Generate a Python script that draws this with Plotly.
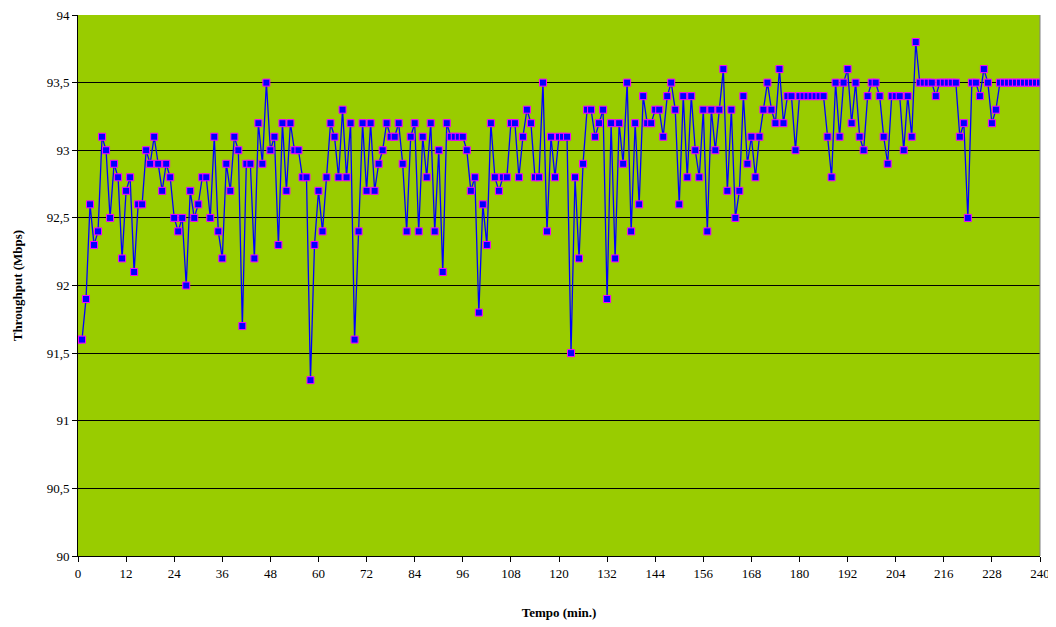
import plotly.graph_objects as go

# Tempo (min.) e throughput (Mbps)
minuti = list(range(0, 241))

throughput = [
    91.6, 91.6, 91.9, 92.6, 92.3, 92.4, 93.1, 93.0, 92.5, 92.9,
    92.8, 92.2, 92.7, 92.8, 92.1, 92.6, 92.6, 93.0, 92.9, 93.1,
    92.9, 92.7, 92.9, 92.8, 92.5, 92.4, 92.5, 92.0, 92.7, 92.5,
    92.6, 92.8, 92.8, 92.5, 93.1, 92.4, 92.2, 92.9, 92.7, 93.1,
    93.0, 91.7, 92.9, 92.9, 92.2, 93.2, 92.9, 93.5, 93.0, 93.1,
    92.3, 93.2, 92.7, 93.2, 93.0, 93.0, 92.8, 92.8, 91.3, 92.3,
    92.7, 92.4, 92.8, 93.2, 93.1, 92.8, 93.3, 92.8, 93.2, 91.6,
    92.4, 93.2, 92.7, 93.2, 92.7, 92.9, 93.0, 93.2, 93.1, 93.1,
    93.2, 92.9, 92.4, 93.1, 93.2, 92.4, 93.1, 92.8, 93.2, 92.4,
    93.0, 92.1, 93.2, 93.1, 93.1, 93.1, 93.1, 93.0, 92.7, 92.8,
    91.8, 92.6, 92.3, 93.2, 92.8, 92.7, 92.8, 92.8, 93.2, 93.2,
    92.8, 93.1, 93.3, 93.2, 92.8, 92.8, 93.5, 92.4, 93.1, 92.8,
    93.1, 93.1, 93.1, 91.5, 92.8, 92.2, 92.9, 93.3, 93.3, 93.1,
    93.2, 93.3, 91.9, 93.2, 92.2, 93.2, 92.9, 93.5, 92.4, 93.2,
    92.6, 93.4, 93.2, 93.2, 93.3, 93.3, 93.1, 93.4, 93.5, 93.3,
    92.6, 93.4, 92.8, 93.4, 93.0, 92.8, 93.3, 92.4, 93.3, 93.0,
    93.3, 93.6, 92.7, 93.3, 92.5, 92.7, 93.4, 92.9, 93.1, 92.8,
    93.1, 93.3, 93.5, 93.3, 93.2, 93.6, 93.2, 93.4, 93.4, 93.0,
    93.4, 93.4, 93.4, 93.4, 93.4, 93.4, 93.4, 93.1, 92.8, 93.5,
    93.1, 93.5, 93.6, 93.2, 93.5, 93.1, 93.0, 93.4, 93.5, 93.5,
    93.4, 93.1, 92.9, 93.4, 93.4, 93.4, 93.0, 93.4, 93.1, 93.8,
    93.5, 93.5, 93.5, 93.5, 93.4, 93.5, 93.5, 93.5, 93.5, 93.5,
    93.1, 93.2, 92.5, 93.5, 93.5, 93.4, 93.6, 93.5, 93.2, 93.3,
    93.5, 93.5, 93.5, 93.5, 93.5, 93.5, 93.5, 93.5, 93.5, 93.5,
    93.5,
]

x_ticks = list(range(0, 241, 12))
y_ticks = [90, 90.5, 91, 91.5, 92, 92.5, 93, 93.5, 94]

serif = "Liberation Serif, Times New Roman, serif"

fig = go.Figure()
fig.add_trace(go.Scatter(
    x=minuti, y=throughput, mode="lines+markers",
    line=dict(color="#0000FF", width=1.3),
    marker=dict(symbol="square", size=7, color="#0000FF",
                line=dict(color="#FF00FF", width=1)),
    showlegend=False,
))

# la pagina ha 8px di margine: la figura e' un po' piu' piccola della finestra
fig.update_layout(
    width=1048, height=619,
    margin=dict(l=70, r=16, t=7, b=71, pad=0),
    paper_bgcolor="white",
    plot_bgcolor="#99CC00",
    separators=",.",
    font=dict(family=serif, size=13, color="black"),
)

fig.update_xaxes(
    range=[0, 240], tickvals=x_ticks, showgrid=False, zeroline=False,
    showline=True, linecolor="black", linewidth=1, automargin=False,
    ticks="outside", ticklen=5, tickcolor="black", ticklabeloverflow="allow",
    title=dict(text="<b>Tempo (min.)</b>", font=dict(size=13), standoff=28),
)
fig.update_yaxes(
    range=[90, 94], tickvals=y_ticks, showgrid=True, gridcolor="black",
    gridwidth=1, zeroline=False, showline=True, linecolor="black",
    automargin=False, ticks="outside", ticklen=5, tickcolor="black",
    ticklabeloverflow="allow",
    title=dict(text="<b>Throughput (Mbps)</b>", font=dict(size=13), standoff=21),
)

# bordo destro grigio dell'area del grafico
fig.add_shape(type="line", xref="paper", yref="paper", x0=1, x1=1, y0=0, y1=1,
              line=dict(color="#808080", width=1))

fig.write_html("out.html")
